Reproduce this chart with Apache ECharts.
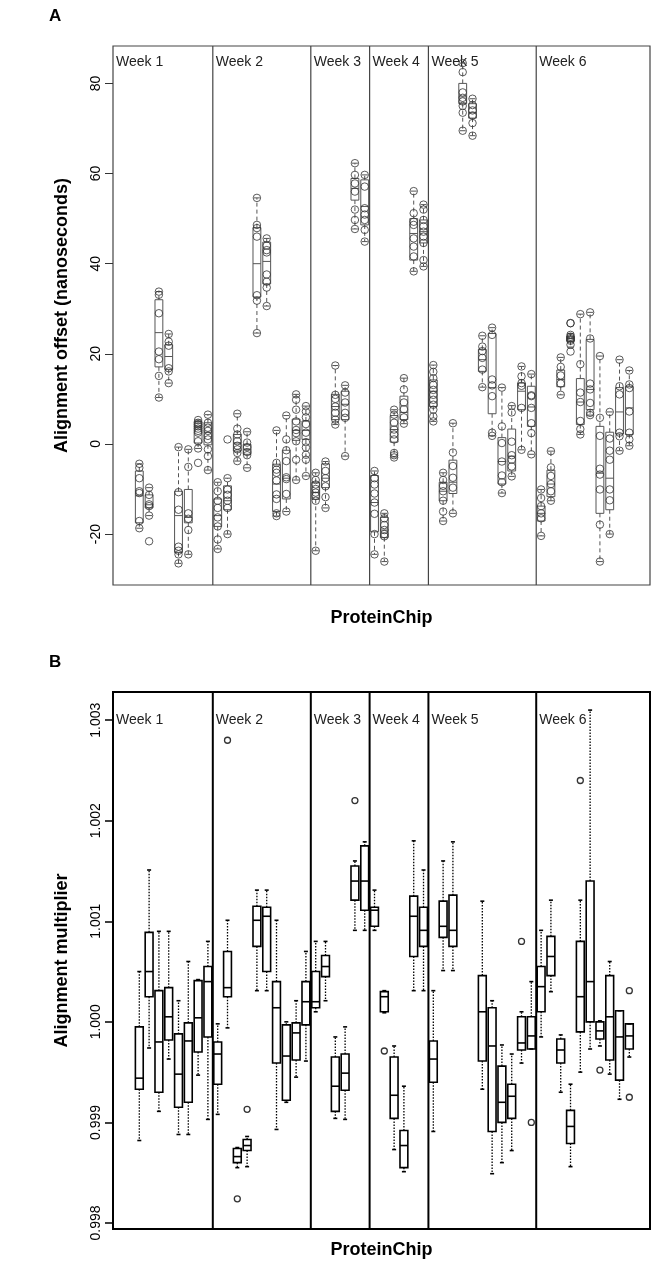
<!DOCTYPE html>
<html>
<head>
<meta charset="utf-8">
<script src="https://cdn.jsdelivr.net/npm/echarts@6/dist/echarts.min.js"></script>
<style>
  html, body { margin: 0; padding: 0; background: #fff; }
  #chart { width: 660px; height: 1262px; }
</style>
</head>
<body>
<div id="chart"></div>
<script>
// Weeks and the chip positions where each new week starts
const weeks = ['Week 1', 'Week 2', 'Week 3', 'Week 4', 'Week 5', 'Week 6'];
const weekBounds = [8.5, 18.5, 24.5, 30.5, 41.5];

// Panel A: alignment offset (ns) per ProteinChip, [lower whisker, Q1, median, Q3, upper whisker]
const offsetStats = [
  [-18.7, -17.5, -11.5, -6.0, -4.4],
  [-15.9, -14.2, -13.5, -11.3, -9.7],
  [10.3, 17.1, 24.7, 32.0, 33.8],
  [13.5, 16.5, 19.4, 22.0, 24.4],
  [-26.5, -24.1, -15.9, -10.5, -0.7],
  [-24.5, -17.5, -16.3, -10.1, -1.2],
  [-1.0, 0.2, 3.8, 5.0, 5.3],
  [-5.8, -0.2, 2.6, 4.7, 6.5],
  [-23.3, -18.3, -15.9, -12.2, -8.5],
  [-20.0, -14.6, -12.6, -9.3, -7.6],
  [-3.8, -1.6, 0.2, 2.1, 6.7],
  [-5.3, -2.3, -1.2, -0.1, 2.7],
  [24.6, 32.6, 40.0, 48.0, 54.6],
  [30.6, 35.5, 40.5, 44.8, 45.6],
  [-16.0, -15.0, -8.9, -4.5, 3.0],
  [-15.0, -12.2, -7.6, -1.4, 6.3],
  [-8.0, 0.8, 3.0, 5.5, 11.0],
  [-7.1, 1.0, 3.0, 5.1, 8.4],
  [-23.7, -12.3, -10.8, -8.5, -6.4],
  [-14.2, -9.7, -7.6, -4.4, -3.9],
  [4.3, 5.4, 8.3, 11.0, 17.4],
  [-2.7, 5.4, 8.8, 11.7, 13.0],
  [47.7, 54.1, 56.7, 58.9, 62.3],
  [44.9, 48.6, 52.7, 58.6, 59.7],
  [-24.5, -19.5, -13.0, -7.0, -6.0],
  [-26.1, -20.8, -19.1, -16.3, -15.4],
  [-2.9, 0.4, 3.2, 6.3, 7.6],
  [4.5, 5.4, 7.0, 10.6, 14.6],
  [38.3, 40.8, 46.7, 50.0, 56.1],
  [39.4, 44.6, 47.1, 49.7, 53.1],
  [5.0, 8.3, 11.7, 14.2, 17.5],
  [-17.1, -12.6, -10.5, -8.5, -6.4],
  [-15.4, -11.0, -8.5, -3.6, 4.6],
  [69.5, 75.5, 77.0, 80.0, 84.5],
  [68.4, 72.3, 73.5, 75.5, 76.6],
  [12.6, 16.1, 18.7, 21.0, 24.0],
  [1.8, 6.7, 12.5, 24.5, 25.8],
  [-10.9, -8.9, -3.9, 1.4, 12.5],
  [-7.2, -6.0, -2.7, 3.3, 8.5],
  [-1.3, 7.6, 11.7, 13.5, 17.2],
  [-2.3, 3.9, 8.2, 12.8, 15.5],
  [-20.4, -17.1, -15.4, -13.8, -10.1],
  [-12.6, -11.7, -8.9, -5.8, -1.6],
  [10.9, 12.7, 14.3, 16.4, 19.2],
  [21.5, 22.8, 23.4, 23.9, 24.5],
  [2.1, 4.3, 9.3, 14.5, 28.8],
  [6.4, 7.6, 12.1, 23.2, 29.2],
  [-26.1, -15.4, -6.5, 3.9, 19.5],
  [-20.0, -14.6, -7.6, 2.6, 7.1],
  [-1.5, 2.2, 7.1, 12.5, 18.7],
  [-0.4, 2.1, 8.0, 12.8, 16.3]
];

// Panel A: individual offsets (ns) per ProteinChip
const offsetPoints = [
  [-4.4, -5.3, -7.6, -10.5, -10.9, -17.1, -18.7],
  [-9.7, -11.3, -13.4, -13.8, -15.9, -21.6],
  [33.8, 33.1, 29.0, 20.5, 18.8, 15.1, 10.3],
  [24.4, 22.7, 21.8, 16.8, 16.1, 13.5],
  [-0.7, -10.7, -14.6, -22.8, -23.7, -24.5, -26.5],
  [-1.2, -5.1, -15.4, -16.6, -19.1, -24.5],
  [5.3, 4.7, 4.3, 3.9, 3.4, 2.9, 2.5, 0.6, -1.0, -4.2],
  [6.5, 4.7, 3.6, 2.9, 1.8, 1.0, -1.2, -2.7, -5.8],
  [-8.5, -10.5, -12.6, -14.2, -16.3, -18.3, -21.2, -23.3],
  [-7.6, -10.1, -11.3, -12.6, -14.2, -20.0, 1.0],
  [6.7, 3.4, 2.1, 0.6, -0.4, -1.2, -2.0, -3.8],
  [2.7, 0.3, -0.7, -1.8, -2.5, -5.3],
  [54.6, 48.6, 47.9, 46.0, 33.0, 31.8, 24.6],
  [45.6, 44.0, 43.0, 42.5, 37.6, 36.0, 34.7, 30.6],
  [3.0, -4.2, -5.7, -6.4, -8.1, -11.2, -12.2, -15.4, -16.0],
  [6.3, 1.0, -1.4, -3.8, -7.4, -7.8, -11.1, -15.0],
  [11.0, 9.8, 7.6, 5.0, 3.1, 2.4, 0.6, -3.5, -8.0],
  [8.4, 7.2, 5.9, 4.4, 2.5, 0.4, -0.8, -2.4, -3.5, -7.1],
  [-6.4, -8.0, -9.0, -10.0, -10.8, -11.5, -12.6, -23.7],
  [-3.9, -6.0, -7.6, -9.4, -11.8, -14.2],
  [17.4, 10.9, 10.0, 8.3, 6.9, 5.4, 4.3],
  [13.0, 11.4, 9.2, 6.9, 5.8, -2.7],
  [62.3, 59.7, 57.8, 56.0, 52.0, 49.7, 47.7],
  [59.7, 57.1, 52.3, 50.9, 49.7, 47.5, 44.9],
  [-6.0, -7.6, -9.0, -11.0, -13.0, -15.5, -20.0, -24.5],
  [-15.4, -16.5, -18.0, -19.1, -20.0, -20.5, -26.1],
  [7.6, 6.5, 4.7, 3.2, 2.1, 1.0, -2.0, -2.5, -3.0],
  [14.6, 12.1, 9.2, 7.7, 5.9, 4.5],
  [56.1, 51.2, 49.3, 48.6, 45.6, 43.8, 41.6, 38.3],
  [53.1, 52.0, 49.7, 48.3, 47.1, 46.0, 44.6, 40.8, 39.4],
  [17.5, 16.0, 14.6, 13.1, 12.0, 10.9, 9.8, 8.7, 7.6, 6.1, 5.0],
  [-6.4, -8.0, -9.3, -10.5, -12.6, -15.0, -17.1],
  [4.6, -1.9, -4.9, -7.5, -9.7, -15.4],
  [84.5, 82.5, 78.0, 76.8, 76.0, 75.0, 73.5, 69.5],
  [76.6, 75.2, 74.0, 72.9, 71.2, 68.4],
  [24.0, 21.6, 20.6, 19.1, 16.5, 12.6],
  [25.8, 24.2, 14.3, 13.0, 10.6, 2.5, 1.8],
  [12.5, 3.9, 0.2, -3.9, -7.0, -8.5, -10.9],
  [8.4, 7.0, 0.5, -2.5, -3.5, -5.0, -7.2],
  [17.2, 15.0, 13.5, 12.9, 8.0, -1.3],
  [15.5, 10.8, 10.6, 8.0, 4.6, 2.4, -2.3],
  [-10.1, -12.0, -13.8, -15.4, -16.5, -20.4],
  [-1.6, -5.2, -7.1, -8.9, -10.5, -12.6],
  [19.2, 17.1, 15.2, 13.4, 10.9],
  [26.8, 26.8, 24.2, 23.8, 23.5, 23.2, 22.9, 22.0, 20.5],
  [28.8, 17.7, 11.4, 9.3, 5.1, 3.3, 2.1],
  [29.2, 23.4, 13.4, 12.1, 9.1, 6.9, 6.4],
  [19.5, 5.8, 1.8, -5.5, -6.8, -10.1, -17.9, -26.1],
  [7.1, 1.2, -1.5, -3.5, -10.1, -12.5, -20.0],
  [18.7, 12.8, 11.0, 2.5, 1.7, -1.5],
  [16.3, 13.2, 12.4, 7.2, 2.5, 1.0, -0.4]
];

// Panel B: alignment multiplier per ProteinChip, [lower whisker, Q1, median, Q3, upper whisker]
const multStats = [
  [0.99882, 0.99933, 0.99944, 0.99995, 1.00050],
  [0.99974, 1.00025, 1.00050, 1.00089, 1.00151],
  [0.99911, 0.99930, 0.99980, 1.00031, 1.00090],
  [0.99963, 0.99982, 1.00005, 1.00034, 1.00090],
  [0.99888, 0.99915, 0.99948, 0.99988, 1.00021],
  [0.99888, 0.99920, 0.99981, 0.99999, 1.00060],
  [0.99947, 0.99970, 1.00004, 1.00041, 1.00042],
  [0.99903, 0.99985, 1.00040, 1.00055, 1.00080],
  [0.99908, 0.99938, 0.99968, 0.99980, 0.99998],
  [0.99994, 1.00025, 1.00034, 1.00070, 1.00101],
  [0.99855, 0.99860, 0.99866, 0.99874, 0.99875],
  [0.99856, 0.99872, 0.99877, 0.99883, 0.99886],
  [1.00031, 1.00075, 1.00101, 1.00115, 1.00131],
  [1.00031, 1.00050, 1.00105, 1.00114, 1.00131],
  [0.99893, 0.99959, 1.00014, 1.00040, 1.00101],
  [0.99920, 0.99922, 0.99966, 0.99997, 1.00000],
  [0.99945, 0.99962, 0.99989, 0.99999, 1.00021],
  [0.99961, 0.99997, 1.00020, 1.00040, 1.00070],
  [1.00010, 1.00014, 1.00020, 1.00050, 1.00080],
  [1.00021, 1.00045, 1.00055, 1.00066, 1.00080],
  [0.99904, 0.99911, 0.99936, 0.99965, 0.99985],
  [0.99903, 0.99932, 0.99949, 0.99968, 0.99995],
  [1.00091, 1.00121, 1.00140, 1.00155, 1.00160],
  [1.00091, 1.00111, 1.00140, 1.00175, 1.00179],
  [1.00091, 1.00095, 1.00111, 1.00114, 1.00131],
  [1.00009, 1.00010, 1.00025, 1.00030, 1.00031],
  [0.99873, 0.99904, 0.99927, 0.99965, 0.99976],
  [0.99851, 0.99855, 0.99877, 0.99892, 0.99936],
  [1.00031, 1.00065, 1.00105, 1.00125, 1.00180],
  [1.00031, 1.00075, 1.00091, 1.00114, 1.00151],
  [0.99891, 0.99940, 0.99963, 0.99981, 1.00031],
  [1.00051, 1.00084, 1.00095, 1.00120, 1.00160],
  [1.00051, 1.00075, 1.00091, 1.00126, 1.00179],
  null,
  null,
  [0.99933, 0.99961, 1.00010, 1.00046, 1.00120],
  [0.99849, 0.99891, 0.99976, 1.00014, 1.00021],
  [0.99860, 0.99900, 0.99920, 0.99956, 0.99977],
  [0.99872, 0.99904, 0.99926, 0.99938, 0.99968],
  [0.99959, 0.99972, 0.99979, 1.00005, 1.00010],
  [0.99973, 0.99973, 0.99986, 1.00005, 1.00040],
  [0.99985, 1.00010, 1.00035, 1.00055, 1.00091],
  [1.00030, 1.00046, 1.00065, 1.00085, 1.00121],
  [0.99930, 0.99959, 0.99972, 0.99983, 0.99987],
  [0.99856, 0.99879, 0.99896, 0.99912, 0.99938],
  [0.99950, 0.99990, 1.00025, 1.00080, 1.00121],
  [0.99973, 1.00000, 1.00040, 1.00140, 1.00310],
  [0.99976, 0.99983, 0.99991, 1.00000, 1.00001],
  [0.99948, 0.99962, 1.00005, 1.00046, 1.00060],
  [0.99923, 0.99942, 0.99985, 1.00011, 1.00011],
  [0.99965, 0.99973, 0.99986, 0.99998, 0.99998]
];

// Panel B: outlying multipliers, [chip, value]
const multOutliers = [
  [10, 1.00280], [11, 0.99824], [12, 0.99913], [23, 1.00220], [26, 0.99971],
  [40, 1.00080], [41, 0.99900], [46, 1.00240], [48, 0.99952],
  [51, 1.00031], [51, 0.99925]
];

// Axis ticks
const offsetTicks = [-20, 0, 20, 40, 60, 80];
const multTicks = [0.998, 0.999, 1.000, 1.001, 1.002, 1.003];

// ---------- drawing ----------
const FONT = '"Liberation Sans", Arial, Helvetica, sans-serif';
const X_MIN = -1.684, X_MAX = 53.11;

function boxRenderer(st) {
  return function (params, api) {
    const x = api.value(0);
    const pLo = api.coord([x, api.value(1)]);
    const pQ1 = api.coord([x, api.value(2)]);
    const pMd = api.coord([x, api.value(3)]);
    const pQ3 = api.coord([x, api.value(4)]);
    const pHi = api.coord([x, api.value(5)]);
    const w = api.size([st.boxwex, 0])[0];
    const sw = st.stapleW;
    const cx = pMd[0];
    const line = (x1, y1, x2, y2, style) => ({
      type: 'line', shape: { x1, y1, x2, y2 }, style
    });
    const whisk = { stroke: st.color, lineWidth: st.whiskW, lineDash: st.dash };
    const solid = { stroke: st.color, lineWidth: st.boxW };
    return {
      type: 'group',
      children: [
        line(cx, pQ3[1], cx, pHi[1], whisk),
        line(cx, pQ1[1], cx, pLo[1], whisk),
        line(cx - sw / 2, pHi[1], cx + sw / 2, pHi[1], solid),
        line(cx - sw / 2, pLo[1], cx + sw / 2, pLo[1], solid),
        {
          type: 'rect',
          shape: { x: cx - w / 2, y: pQ3[1], width: w, height: pQ1[1] - pQ3[1] },
          style: { fill: 'none', stroke: st.color, lineWidth: st.boxW }
        },
        line(cx - w / 2, pMd[1], cx + w / 2, pMd[1], { stroke: st.color, lineWidth: st.medW })
      ]
    };
  };
}

function weekRenderer(st) {
  return function (params, api) {
    const i = api.value(0);
    const cs = params.coordSys;
    const xb = i === 0 ? cs.x : api.coord([weekBounds[i - 1], 0])[0];
    const ty = api.coord([0, st.labelY])[1];
    const children = [];
    if (i > 0) {
      children.push({
        type: 'line',
        shape: { x1: xb, y1: cs.y, x2: xb, y2: cs.y + cs.height },
        style: { stroke: st.color, lineWidth: st.lineW }
      });
    }
    children.push({
      type: 'text',
      x: xb + 3, y: ty,
      style: {
        text: weeks[i], fill: '#222', font: '14px ' + FONT,
        align: 'left', verticalAlign: 'middle'
      }
    });
    return { type: 'group', children };
  };
}

const boxDataA = offsetStats.map((s, i) => [i + 1].concat(s));
const boxDataB = [];
multStats.forEach((s, i) => { if (s) boxDataB.push([i + 1].concat(s)); });
const pointsA = [];
offsetPoints.forEach((arr, i) => arr.forEach(v => pointsA.push([i + 1, v])));
const weekData = weeks.map((w, i) => [i]);

const yName = { fontFamily: FONT, fontWeight: 'bold', fontSize: 18, color: '#000' };
const tickLab = { fontFamily: FONT, fontSize: 14, color: '#000' };

const option = {
  animation: false,
  backgroundColor: '#fff',
  grid: [
    { left: 113, top: 46, width: 537, height: 539, show: true, borderColor: '#444', borderWidth: 1.2 },
    { left: 113, top: 692, width: 537, height: 537, show: true, borderColor: '#000', borderWidth: 2 }
  ],
  xAxis: [0, 1].map(g => ({
    gridIndex: g, type: 'value', min: X_MIN, max: X_MAX,
    axisLine: { show: false, onZero: false }, axisTick: { show: false },
    axisLabel: { show: false }, splitLine: { show: false },
    name: 'ProteinChip', nameLocation: 'middle', nameGap: g === 0 ? 24 : 12,
    nameTextStyle: yName
  })),
  yAxis: [
    {
      gridIndex: 0, type: 'value', min: -31.3, max: 88.3, position: 'left',
      axisLine: { show: false, onZero: false }, splitLine: { show: false },
      axisTick: { show: true, inside: false, length: 8, customValues: offsetTicks, lineStyle: { color: '#333', width: 1 } },
      axisLabel: { customValues: offsetTicks, rotate: 90, margin: 10, ...tickLab, formatter: v => String(v) },
      name: 'Alignment offset (nanoseconds)', nameLocation: 'middle', nameGap: 42,
      nameTextStyle: yName
    },
    {
      gridIndex: 1, type: 'value', min: 0.99794, max: 1.00328, position: 'left',
      axisLine: { show: false, onZero: false }, splitLine: { show: false },
      axisTick: { show: true, inside: false, length: 8, customValues: multTicks, lineStyle: { color: '#000', width: 1.5 } },
      axisLabel: { customValues: multTicks, rotate: 90, margin: 10, ...tickLab, formatter: v => v.toFixed(3) },
      name: 'Alignment multiplier', nameLocation: 'middle', nameGap: 42,
      nameTextStyle: yName
    }
  ],
  graphic: [
    { type: 'text', left: 49, top: 8, style: { text: 'A', font: 'bold 17px ' + FONT, fill: '#000' } },
    { type: 'text', left: 49, top: 654, style: { text: 'B', font: 'bold 17px ' + FONT, fill: '#000' } }
  ],
  series: [
    {
      type: 'custom', xAxisIndex: 0, yAxisIndex: 0, clip: false,
      renderItem: weekRenderer({ color: '#444', lineW: 1.2, labelY: 84.7 }),
      data: weekData, z: 1
    },
    {
      type: 'custom', xAxisIndex: 0, yAxisIndex: 0,
      renderItem: boxRenderer({ boxwex: 0.8, stapleW: 6, color: '#555', boxW: 1, whiskW: 1, medW: 1, dash: [4, 3] }),
      encode: { x: 0, y: [1, 2, 3, 4, 5] },
      data: boxDataA, z: 2
    },
    {
      type: 'scatter', xAxisIndex: 0, yAxisIndex: 0,
      symbol: 'circle', symbolSize: 7.5,
      itemStyle: { color: 'rgba(0,0,0,0)', borderColor: '#333', borderWidth: 1 },
      data: pointsA, z: 3, silent: true
    },
    {
      type: 'custom', xAxisIndex: 1, yAxisIndex: 1, clip: false,
      renderItem: weekRenderer({ color: '#000', lineW: 2, labelY: 1.003 }),
      data: weekData, z: 1
    },
    {
      type: 'custom', xAxisIndex: 1, yAxisIndex: 1,
      renderItem: boxRenderer({ boxwex: 0.8, stapleW: 4, color: '#000', boxW: 1.6, whiskW: 1.3, medW: 1.6, dash: [1.5, 1.5] }),
      encode: { x: 0, y: [1, 2, 3, 4, 5] },
      data: boxDataB, z: 2
    },
    {
      type: 'scatter', xAxisIndex: 1, yAxisIndex: 1,
      symbol: 'circle', symbolSize: 6,
      itemStyle: { color: 'rgba(0,0,0,0)', borderColor: '#000', borderWidth: 1.3 },
      data: multOutliers, z: 3, silent: true
    }
  ]
};

const chart = echarts.init(document.getElementById('chart'), null, { renderer: 'canvas' });
chart.setOption(option);
</script>
</body>
</html>
